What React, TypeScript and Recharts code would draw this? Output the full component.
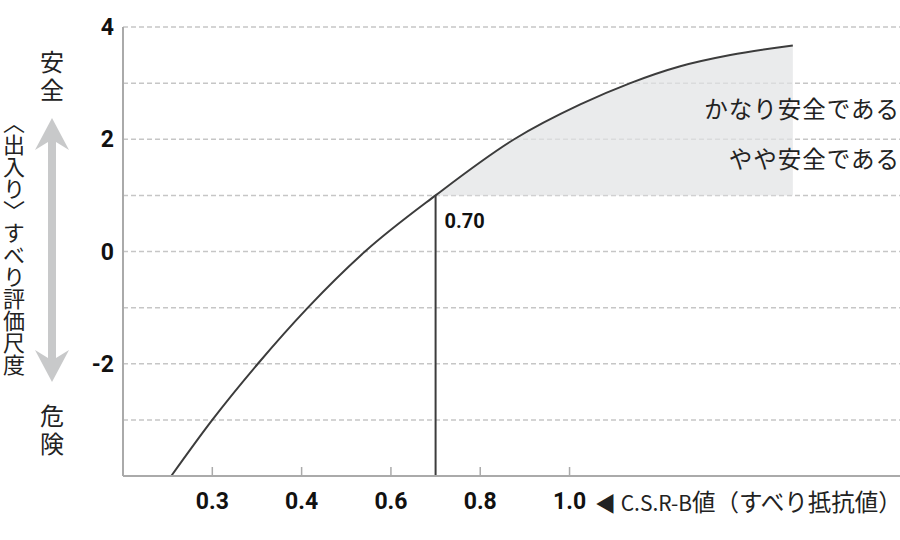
import React from 'react';
import {
  ComposedChart,
  Line,
  Area,
  XAxis,
  YAxis,
  CartesianGrid,
  ReferenceLine,
} from 'recharts';

// X axis: equally spaced C.S.R-B ticks (position index -> label)
const csrTickPos = [1, 2, 3, 4, 5];
const csrTickLabels = ['0.3', '0.4', '0.6', '0.8', '1.0'];

// Slip evaluation curve (position on C.S.R-B axis, evaluation score)
const curvePos = [0.54, 1.0, 1.51, 2.07, 2.71, 3.5, 4.38, 5.12, 5.68, 6.24, 6.8, 7.5];
const curveScore = [-4, -3, -2, -1, 0, 1, 2, 2.62, 3, 3.3, 3.5, 3.67];

// Y axis
const scoreTicks = [-2, 0, 2, 4];
const scoreGrid = [-3, -2, -1, 0, 1, 2, 3, 4];

// Threshold
const thresholdPos = 3.5;
const thresholdScore = 1;
const thresholdLabel = '0.70';

// Zone labels
const zoneLabels = ['かなり安全である', 'やや安全である'];
const zoneScores = [2.55, 1.66];

const data = curvePos.map((p, i) => ({
  pos: p,
  score: curveScore[i],
  band: p >= thresholdPos ? [thresholdScore, curveScore[i]] : null,
}));

const NUM_FONT = 'Roboto, "Noto Sans", sans-serif';
const JP_FONT = '"Noto Sans CJK JP", "Noto Sans", sans-serif';

const ThresholdLabel = (props: any) => {
  const vb = props.viewBox || {};
  return (
    <text
      x={vb.x + 9}
      y={vb.y + 33}
      fontFamily={NUM_FONT}
      fontWeight={700}
      fontSize={20}
      fill="#111"
    >
      {thresholdLabel}
    </text>
  );
};

const ZoneLabel = (props: any) => {
  const vb = props.viewBox || {};
  return (
    <text
      x={vb.x + vb.width}
      y={vb.y}
      textAnchor="end"
      dominantBaseline="central"
      fontFamily={JP_FONT}
      fontSize={23.5}
      letterSpacing={1}
      fill="#222"
    >
      {props.value}
    </text>
  );
};

export default function App() {
  return (
    <div style={{ position: 'absolute', left: 0, top: 0, width: 900, height: 540 }}>
      <ComposedChart
        width={900}
        height={540}
        data={data}
        margin={{ top: 27, right: 0, bottom: 24, left: 0 }}
      >
        <CartesianGrid
          horizontal
          vertical={false}
          horizontalValues={scoreGrid}
          stroke="#c6c6c6"
          strokeWidth={1.5}
          strokeDasharray="5 3"
        />
        <XAxis
          dataKey="pos"
          type="number"
          domain={[0, 8.7]}
          ticks={csrTickPos}
          tickFormatter={(v: number) => csrTickLabels[csrTickPos.indexOf(v)] ?? ''}
          height={40}
          axisLine={{ stroke: '#aaaaaa', strokeWidth: 2 }}
          tickLine={{ stroke: '#aaaaaa', strokeWidth: 1.5 }}
          tickSize={-9}
          tickMargin={26}
          tick={{ fontFamily: NUM_FONT, fontWeight: 700, fontSize: 23, fill: '#111' }}
          interval={0}
        />
        <YAxis
          type="number"
          domain={[-4, 4]}
          ticks={scoreTicks}
          width={123}
          axisLine={{ stroke: '#aaaaaa', strokeWidth: 2 }}
          tickLine={false}
          tickSize={6}
          tickMargin={3}
          tick={{ fontFamily: NUM_FONT, fontWeight: 700, fontSize: 23, fill: '#111' }}
          interval={0}
        />
        <Area
          dataKey="band"
          type="monotone"
          stroke="none"
          fill="#e2e3e4"
          fillOpacity={0.72}
          isAnimationActive={false}
          activeDot={false}
        />
        <Line
          dataKey="score"
          type="monotone"
          stroke="#3c3c3c"
          strokeWidth={2}
          dot={false}
          activeDot={false}
          isAnimationActive={false}
        />
        <ReferenceLine
          segment={[
            { x: thresholdPos, y: -4 },
            { x: thresholdPos, y: thresholdScore },
          ]}
          stroke="#3c3c3c"
          strokeWidth={2}
          label={<ThresholdLabel />}
        />
        {zoneLabels.map((t, i) => (
          <ReferenceLine
            key={t}
            y={zoneScores[i]}
            stroke="none"
            label={<ZoneLabel value={t} />}
          />
        ))}
      </ComposedChart>
      <svg
        width={900}
        height={540}
        style={{ position: 'absolute', left: 0, top: 0, pointerEvents: 'none' }}
      >
        <g fontFamily={JP_FONT} fill="#222">
          <text x={52} y={50} fontSize={24} letterSpacing={4} style={{ writingMode: 'vertical-rl' }}>
            安全
          </text>
          <text x={52} y={404} fontSize={24} letterSpacing={4} style={{ writingMode: 'vertical-rl' }}>
            危険
          </text>
          <text
            x={14}
            y={112}
            fontSize={22}
            style={{ writingMode: 'vertical-rl' }}
          >
            〈出入り〉すべり評価尺度
          </text>
          <text x={595} y={511} fill="#222">
            <tspan fontSize={21}>◀ C.S.R-B</tspan>
            <tspan fontSize={23.5}>値（すべり抵抗値）</tspan>
          </text>
        </g>
        <path
          d="M52 118 L69 150 L56 142 L56 358 L69 350 L52 382 L35 350 L48 358 L48 142 L35 150 Z"
          fill="#c8c9ca"
        />
      </svg>
    </div>
  );
}
